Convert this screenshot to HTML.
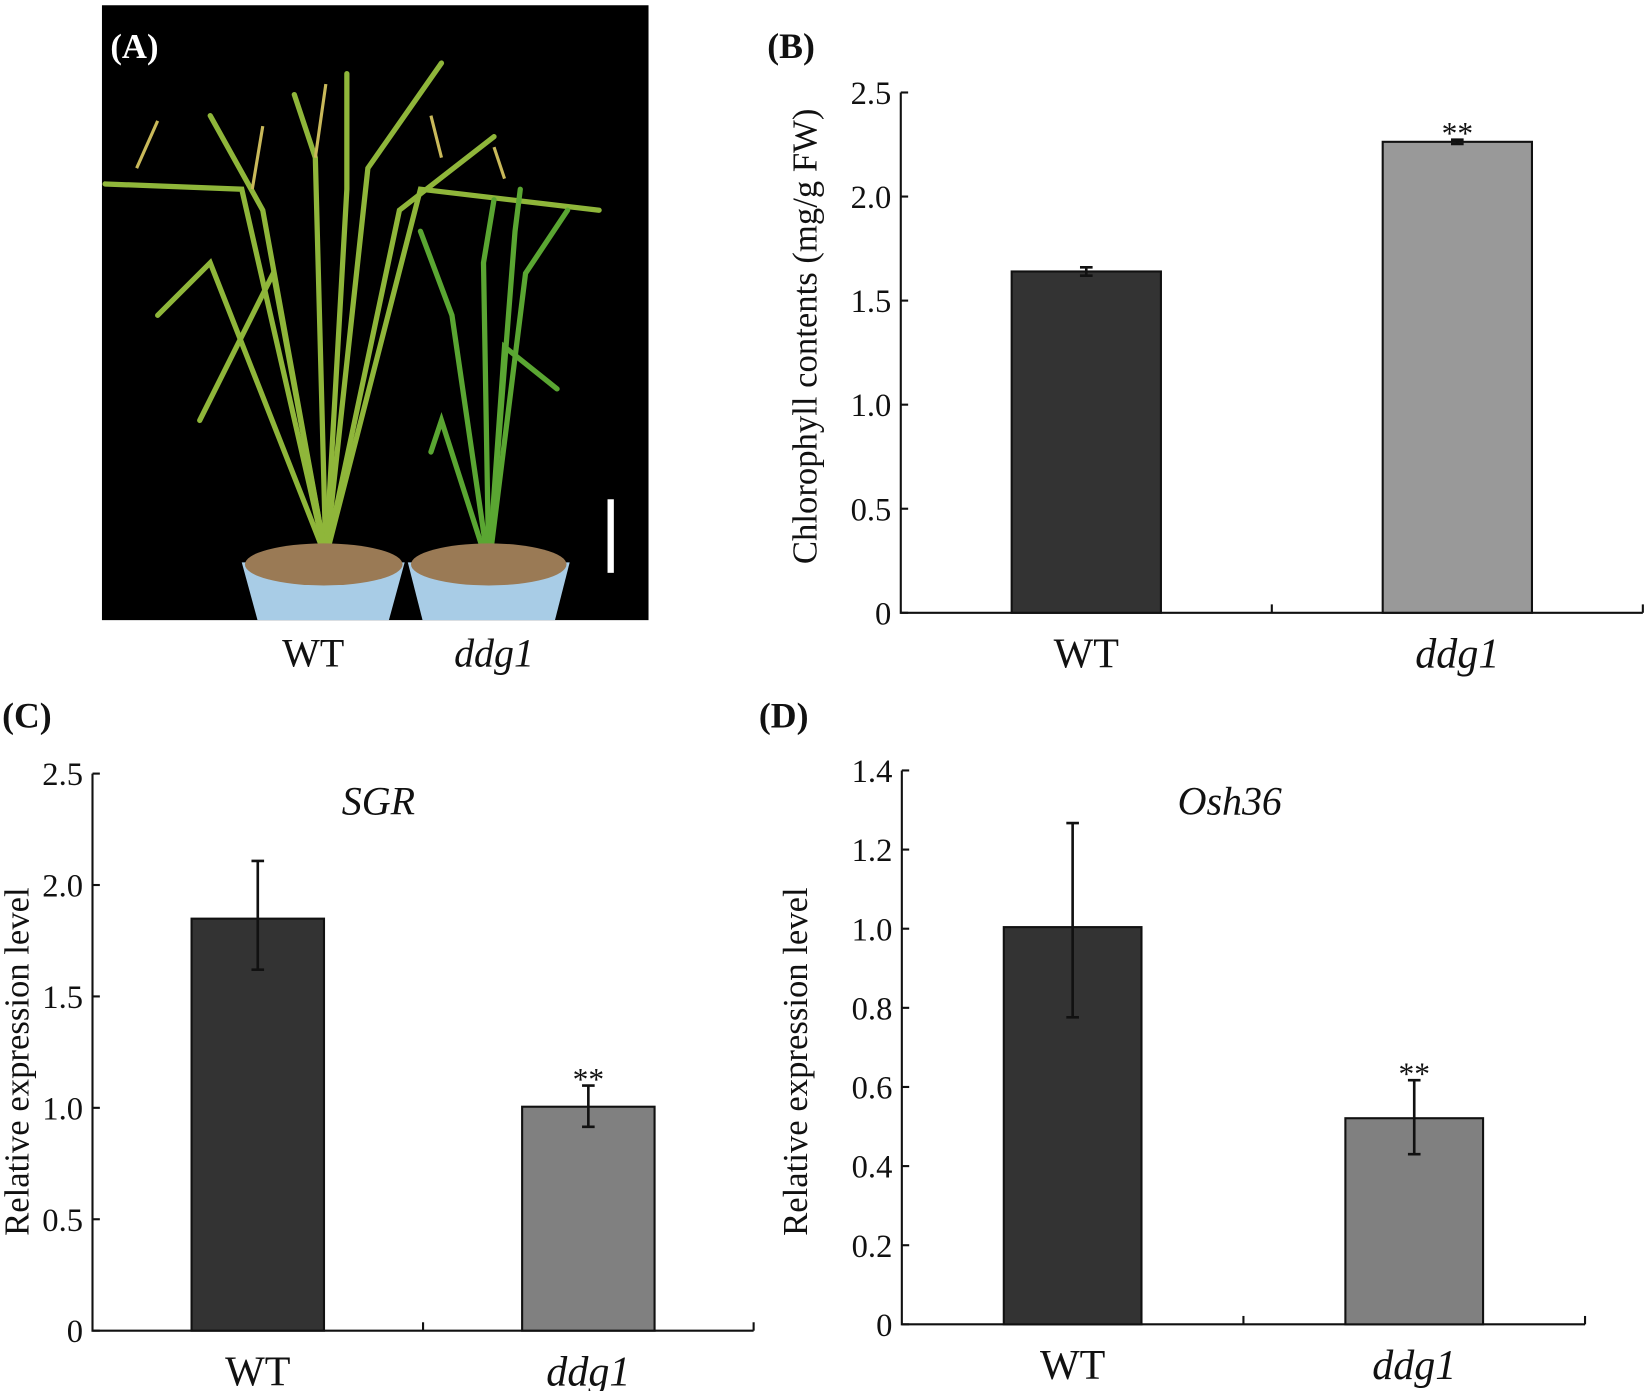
<!DOCTYPE html>
<html><head><meta charset="utf-8"><style>
html,body{margin:0;padding:0;background:#fff;width:1646px;height:1391px;overflow:hidden}
svg text{font-family:"Liberation Serif",serif;fill:#111}
</style></head><body>
<svg id="fig" width="1646" height="1391" viewBox="0 0 1566 1323.4" xmlns="http://www.w3.org/2000/svg">
<g>
<rect x="97" y="5" width="520" height="585" fill="#000"/>
<g stroke="#8fb63a" stroke-width="5" fill="none" stroke-linecap="round">
<path d="M310 530 L250 200 L200 110"/><path d="M310 530 L300 150 L280 90"/><path d="M310 530 L350 160 L420 60"/>
<path d="M310 530 L200 250 L150 300"/><path d="M310 530 L380 200 L470 130"/><path d="M310 530 L230 180 L100 175"/>
<path d="M310 530 L330 180 L330 70"/><path d="M310 530 L400 180 L570 200"/><path d="M310 530 L260 260 L190 400"/>
</g>
<g stroke="#c9b95a" stroke-width="3" fill="none">
<path d="M150 115 L130 160"/><path d="M250 120 L240 180"/><path d="M310 80 L300 150"/><path d="M410 110 L420 150"/><path d="M470 140 L480 170"/>
</g>
<g stroke="#5aa632" stroke-width="5" fill="none" stroke-linecap="round">
<path d="M465 540 L430 300 L400 220"/><path d="M465 540 L460 250 L470 190"/><path d="M465 540 L500 260 L540 200"/>
<path d="M465 540 L480 330 L530 370"/><path d="M465 540 L420 400 L410 430"/><path d="M465 540 L490 220 L495 180"/>
</g>
<path d="M230 535 L385 535 L370 590 L245 590 Z" fill="#a8cce6"/>
<ellipse cx="308" cy="537" rx="75" ry="20" fill="#9a7a55"/>
<path d="M388 535 L542 535 L528 590 L402 590 Z" fill="#a8cce6"/>
<ellipse cx="465" cy="537" rx="74" ry="20" fill="#9a7a55"/>
<rect x="578" y="475" width="6" height="70" fill="#fff"/>
<text x="105" y="55" font-size="33" font-weight="bold" style="fill:#fff">(A)</text>
<text x="298" y="634" font-size="38" text-anchor="middle">WT</text>
<text x="470" y="634" font-size="38" font-style="italic" text-anchor="middle">ddg1</text>
</g>
<g id="charts"></g>
</svg>
<script>
const categories = ["WT", "ddg1"];
const bValues = [1.64, 2.263];
const bErrors = [0.02, 0.01];
const bTicks = ["0","0.5","1.0","1.5","2.0","2.5"];
const cValues = [1.849, 1.005];
const cErrLow = [1.62, 0.915];
const cErrHigh = [2.108, 1.10];
const cTicks = ["0","0.5","1.0","1.5","2.0","2.5"];
const dValues = [1.004, 0.521];
const dErrLow = [0.776, 0.43];
const dErrHigh = [1.267, 0.617];
const dTicks = ["0","0.2","0.4","0.6","0.8","1.0","1.2","1.4"];
const sig = ["", "**"];

const NS = "http://www.w3.org/2000/svg";
const root = document.getElementById("charts");
function mk(tag, attrs, parent, txt){const e=document.createElementNS(NS,tag);for(const k in attrs)e.setAttribute(k,attrs[k]);if(txt!==undefined)e.textContent=txt;parent.appendChild(e);return e;}

function panel(cfg){
  const g=mk("g",{},root);
  
  
  const ymax=parseFloat(cfg.ticks[cfg.ticks.length-1]);
  const y=v=>cfg.y0-(v/ymax)*(cfg.y0-cfg.yTop);
  const ax=mk("path",{d:`M${cfg.x0} ${cfg.yTop} L${cfg.x0} ${cfg.y0} L${cfg.xEnd} ${cfg.y0}`,stroke:"#111","stroke-width":2,fill:"none"},g);
  
  
  cfg.ticks.forEach(t=>{
    const v=parseFloat(t), yy=y(v);
    const tk=mk("line",{x1:cfg.x0,x2:cfg.x0+7,y1:yy,y2:yy,stroke:"#111","stroke-width":2},g);
    
    
    const tl=mk("text",{x:cfg.x0-9,y:yy+11,"font-size":31,"text-anchor":"end"},g,t);
    
    
  });
  const xm=(cfg.x0+cfg.xEnd)/2;
  [xm,cfg.xEnd].forEach(xx=>{
    const tk=mk("line",{x1:xx,x2:xx,y1:cfg.y0,y2:cfg.y0-8,stroke:"#111","stroke-width":2},g);
    
    
  });
  const slot=(cfg.xEnd-cfg.x0)/categories.length;
  categories.forEach((c,i)=>{
    const cx=cfg.x0+slot*(i+0.5);
    const v=cfg.values[i], top=y(v);
    const r=mk("rect",{x:cx-cfg.bw/2,y:top,width:cfg.bw,height:cfg.y0-top,fill:cfg.fills[i],stroke:"#111","stroke-width":2},g);
    
    
    const lo=y(cfg.lo[i]), hi=y(cfg.hi[i]);
    const e=mk("path",{d:`M${cx} ${lo} L${cx} ${hi} M${cx-6} ${lo} L${cx+6} ${lo} M${cx-6} ${hi} L${cx+6} ${hi}`,stroke:"#111","stroke-width":2.5,fill:"none"},g);
    
    
    if(sig[i]){
      const s=mk("text",{x:cx,y:hi+4,"font-size":30,"text-anchor":"middle"},g,sig[i]);
      
      
    }
    const l=mk("text",{x:cx,y:cfg.y0+52,"font-size":40,"text-anchor":"middle","font-style":i==1?"italic":"normal"},g,c);
    
    
  });
  const yt=mk("text",{x:0,y:0,"font-size":33,"text-anchor":"middle",transform:`translate(${cfg.ytx},${cfg.yty}) rotate(-90)`},g,cfg.ytitle);
  
  
  const pl=mk("text",{x:cfg.lx,y:cfg.ly,"font-size":34,"font-weight":"bold"},g,cfg.label);
  
  
  if(cfg.title){
    const tt=mk("text",{x:cfg.tx,y:775,"font-size":38,"font-style":"italic","text-anchor":"middle"},g,cfg.title);
    
    
  }
}
panel({name:"panel-b-chlorophyll",x0:857,xEnd:1563,y0:583,yTop:88,ticks:bTicks,values:bValues,
  lo:bValues.map((v,i)=>v-bErrors[i]),hi:bValues.map((v,i)=>v+bErrors[i]),bw:142,
  fills:["#333","#999"],ytitle:"Chlorophyll contents (mg/g FW)",ytx:777,yty:320,label:"(B)",lx:730,ly:55});
panel({name:"panel-c-sgr",x0:88,xEnd:717,y0:1266,yTop:736,ticks:cTicks,values:cValues,lo:cErrLow,hi:cErrHigh,
  bw:126,fills:["#333","#808080"],ytitle:"Relative expression level",ytx:27,yty:1010,label:"(C)",lx:2,ly:692,title:"SGR",tx:360});
panel({name:"panel-d-osh36",x0:858,xEnd:1508,y0:1260,yTop:733,ticks:dTicks,values:dValues,lo:dErrLow,hi:dErrHigh,
  bw:131,fills:["#333","#808080"],ytitle:"Relative expression level",ytx:768,yty:1010,label:"(D)",lx:722,ly:692,title:"Osh36",tx:1170});
</script>
</body></html>
